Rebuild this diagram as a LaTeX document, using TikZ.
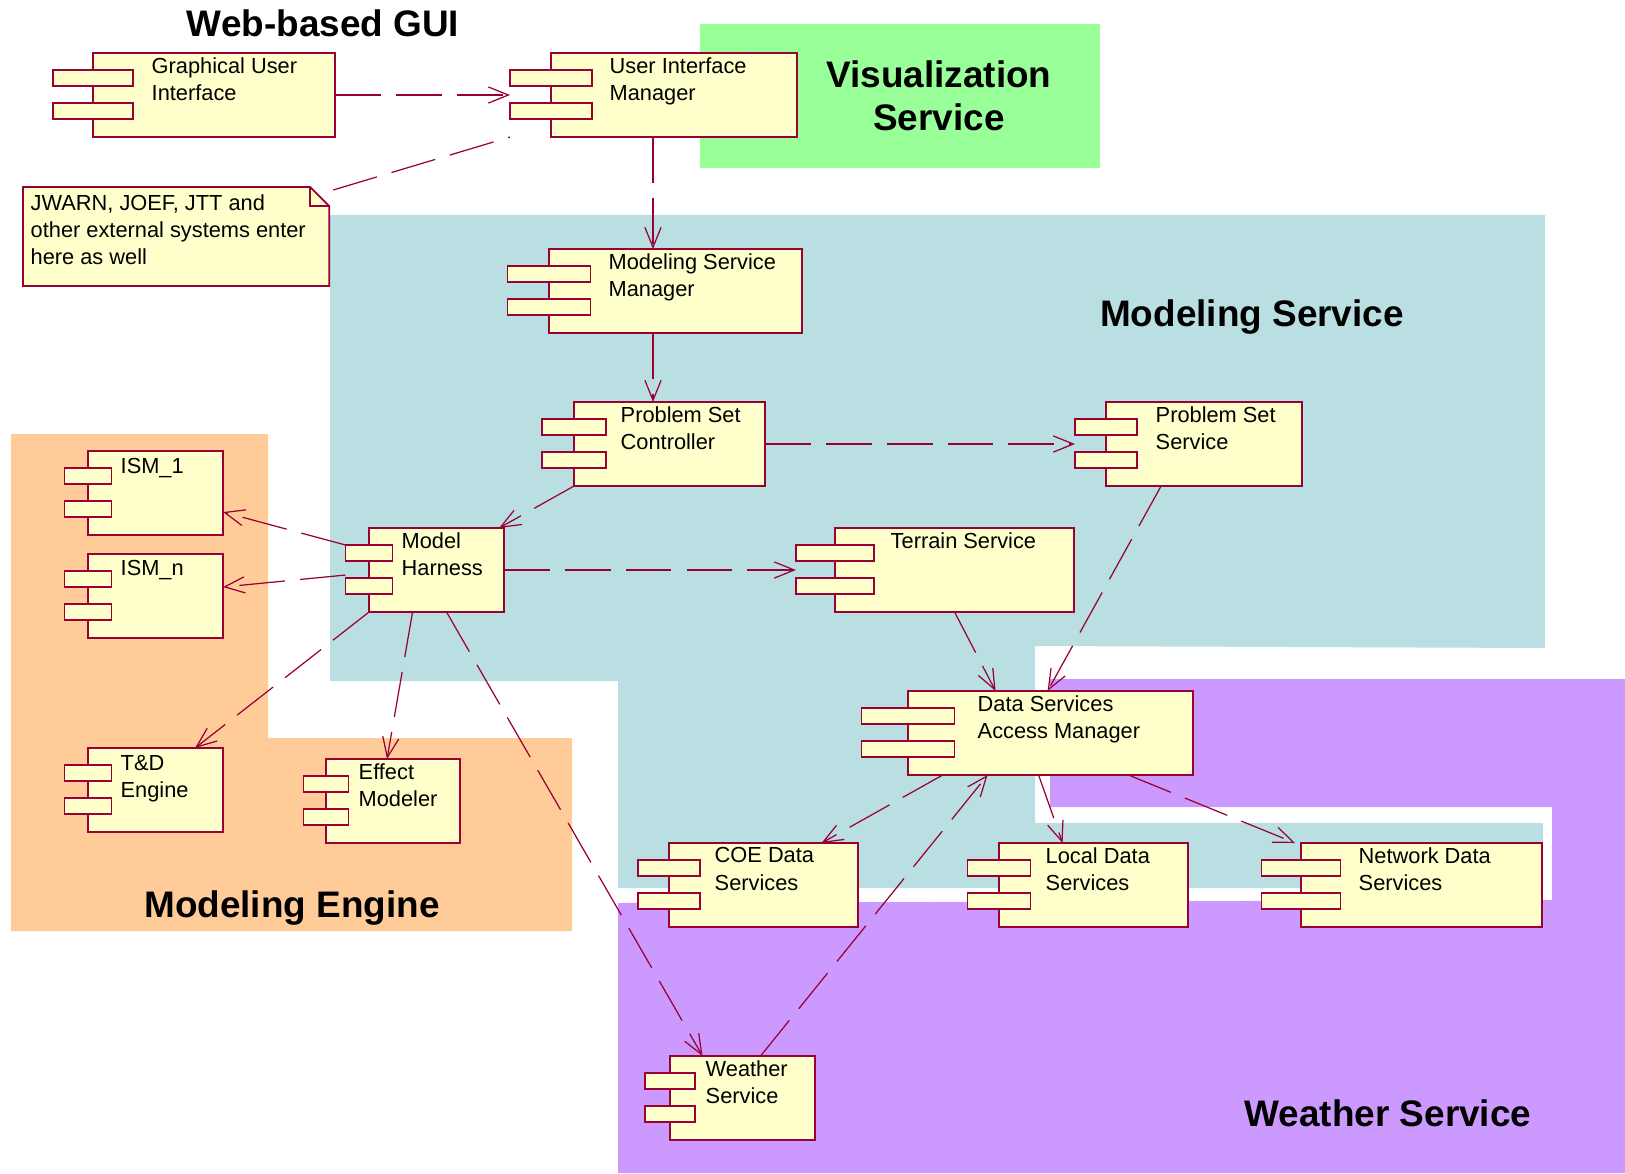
\documentclass[tikz,border=0pt]{standalone}
\usepackage{fontspec}
\setmainfont{Liberation Sans}
\usepackage{xcolor}
\definecolor{rosered}{RGB}{153,0,51}
\definecolor{compyellow}{RGB}{255,255,204}
\definecolor{vizgreen}{RGB}{153,255,153}
\definecolor{modteal}{RGB}{185,223,227}
\definecolor{engorange}{RGB}{255,204,153}
\definecolor{wxpurple}{RGB}{204,153,255}
\usepackage{tikz}
\usetikzlibrary{calc}
\usetikzlibrary{arrows.meta}

\begin{document}
\begin{tikzpicture}[x=0.01cm,y=-0.01cm,
  comp/.style={draw=rosered,fill=compyellow,line width=0.5pt,anchor=north west,minimum height=0.84cm,inner sep=0pt,outer sep=0pt},
  port/.style={draw=rosered,fill=compyellow,line width=0.5pt,minimum height=0.16cm,inner sep=0pt,outer sep=0pt},
  lbl/.style={font=\fontsize{6.2}{7.7}\selectfont,align=left,inner sep=0pt,anchor=north west},
  title/.style={font=\fontsize{10.5}{12}\selectfont\bfseries,align=center,inner sep=0pt,anchor=base},
  dep/.style={draw=rosered,line width=0.35pt,dash pattern=on 13pt off 4.3pt,-{Straight Barb[length=5.7pt,width=4.6pt]}}]
\useasboundingbox (0,0) rectangle (1625,1173);
% service areas
\fill[vizgreen] (700,24) rectangle (1100,168);
\fill[engorange] (11,434) -- (268,434) -- (268,738) -- (572,738) -- (572,931) -- (11,931) -- cycle;
\fill[modteal] (330,215) -- (1545,215) -- (1545,648) -- (1035,646) -- (1035,823) -- (1543,823)
  -- (1543,888) -- (618,888) -- (618,681) -- (330,681) -- cycle;
\fill[wxpurple] (1050,679) -- (1625,679) -- (1625,1173) -- (618,1173) -- (618,903) -- (1552,900)
  -- (1552,807) -- (1050,807) -- cycle;
\node[title] (t-gui) at (323,37) {Web-based GUI};
\node[title] (t-viz) at (939,130) {Visualization\\Service};
\node[title] (t-mod) at (1252,326) {Modeling Service};
\node[title] (t-eng) at (292,917) {Modeling Engine};
\node[title] (t-wx) at (1388,1126) {Weather Service};
% components
\node[comp,minimum width=2.42cm] (gui) at (93,53) {};
\node[comp,minimum width=2.46cm] (uim) at (551,53) {};
\node[comp,minimum width=2.53cm] (msm) at (549,249) {};
\node[comp,minimum width=1.91cm] (psc) at (574,402) {};
\node[comp,minimum width=1.96cm] (pss) at (1106,402) {};
\node[comp,minimum width=1.35cm] (mh) at (369,528) {};
\node[comp,minimum width=2.39cm] (ts) at (835,528) {};
\node[comp,minimum width=1.35cm] (ism1) at (88,451) {};
\node[comp,minimum width=1.35cm] (ismn) at (88,554) {};
\node[comp,minimum width=1.35cm] (td) at (88,748) {};
\node[comp,minimum width=1.34cm] (em) at (326,759) {};
\node[comp,minimum width=2.85cm] (dsam) at (908,691) {};
\node[comp,minimum width=1.89cm] (coe) at (669,843) {};
\node[comp,minimum width=1.89cm] (loc) at (999,843) {};
\node[comp,minimum width=2.41cm] (net) at (1301,843) {};
\node[comp,minimum width=1.45cm] (ws) at (670,1056) {};
\foreach \c/\w in {gui/.80,uim/.82,msm/.83,psc/.64,pss/.62,mh/.47,ts/.78,ism1/.47,ismn/.47,
  td/.47,em/.45,dsam/.93,coe/.62,loc/.63,net/.79,ws/.50}{
  \node[port,minimum width=\w cm] (\c-a) at ($(\c.north west)+(0,25)$) {};
  \node[port,minimum width=\w cm] (\c-b) at ($(\c.north west)+(0,58)$) {};
}
\node[lbl] (gui-t) at ($(gui.north west)+(58,4)$) {Graphical User\\Interface};
\node[lbl] (uim-t) at ($(uim.north west)+(58,4)$) {User Interface\\Manager};
\node[lbl] (msm-t) at ($(msm.north west)+(59,4)$) {Modeling Service\\Manager};
\node[lbl] (psc-t) at ($(psc.north west)+(46,4)$) {Problem Set\\Controller};
\node[lbl] (pss-t) at ($(pss.north west)+(49,4)$) {Problem Set\\Service};
\node[lbl] (mh-t) at ($(mh.north west)+(32,4)$) {Model\\Harness};
\node[lbl] (ts-t) at ($(ts.north west)+(55,4)$) {Terrain Service};
\node[lbl] (ism1-t) at ($(ism1.north west)+(32,7)$) {ISM\_1};
\node[lbl] (ismn-t) at ($(ismn.north west)+(32,6)$) {ISM\_n};
\node[lbl] (td-t) at ($(td.north west)+(32,7)$) {T\&D\\Engine};
\node[lbl] (em-t) at ($(em.north west)+(32,4)$) {Effect\\Modeler};
\node[lbl] (dsam-t) at ($(dsam.north west)+(69,4)$) {Data Services\\Access Manager};
\node[lbl] (coe-t) at ($(coe.north west)+(45,4)$) {COE Data\\Services};
\node[lbl] (loc-t) at ($(loc.north west)+(46,4)$) {Local Data\\Services};
\node[lbl] (net-t) at ($(net.north west)+(57,4)$) {Network Data\\Services};
\node[lbl] (ws-t) at ($(ws.north west)+(35,4)$) {Weather\\Service};
% note
\node[inner sep=0pt,outer sep=0pt,anchor=north west,minimum width=3.06cm,minimum height=0.99cm] (note) at (23,187) {};
\filldraw[draw=rosered,fill=compyellow,line width=0.5pt] (note.north west) -- ($(note.north east)+(-19,0)$)
  -- ($(note.north east)+(0,19)$) -- (note.south east) -- (note.south west) -- cycle;
\draw[rosered,line width=0.5pt] ($(note.north east)+(-19,0)$) |- ($(note.north east)+(0,19)$);
\node[lbl] (note-t) at ($(note.north west)+(7,7)$) {JWARN, JOEF, JTT and\\other external systems enter\\here as well};
% dependencies
\coordinate (spine) at (653,0);
\draw[dep] (gui.east) -- (uim.west -| uim-a.west);
\draw[dep,-] ($(note.north east)+(4,3)$) -- (uim.south west -| uim-a.west);
\draw[dep] (uim.south -| spine) -- (msm.north -| spine);
\draw[dep] (msm.south -| spine) -- (psc.north -| spine);
\draw[dep] (psc.east) -- (pss.west -| pss-a.west);
\draw[dep] (psc.south west) -- ($(mh.north east)+(-5,0)$);
\draw[dep] (mh.east) -- (ts.west -| ts-a.west);
\draw[dep] (mh-a.north west) -- ($(ism1.east)+(0,19)$);
\draw[dep] ($(mh.west -| mh-a.west)+(0,5)$) -- ($(ismn.east)+(0,-9)$);
\draw[dep] (mh.south west) -- ($(td.north east)+(-28,0)$);
\draw[dep] ($(mh.south)+(-24,0)$) -- ($(em.north)+(-6,0)$);
\draw[dep] ($(mh.south)+(10,0)$) -- ($(ws.north)+(-40,0)$);
\draw[dep] (ts.south) -- ($(dsam.north)+(-55,0)$);
\draw[dep] ($(pss.south)+(-43,0)$) -- ($(dsam.north)+(-3,0)$);
\draw[dep] ($(dsam.south)+(-108,0)$) -- ($(coe.north)+(58,0)$);
\draw[dep] ($(ws.north)+(18,0)$) -- ($(dsam.south)+(-63,0)$);
\draw[dep] ($(dsam.south)+(-12,0)$) -- ($(loc.north)+(-31,0)$);
\draw[dep] ($(dsam.south)+(78,0)$) -- ($(net.north west)+(-6,0)$);
\end{tikzpicture}
\end{document}
